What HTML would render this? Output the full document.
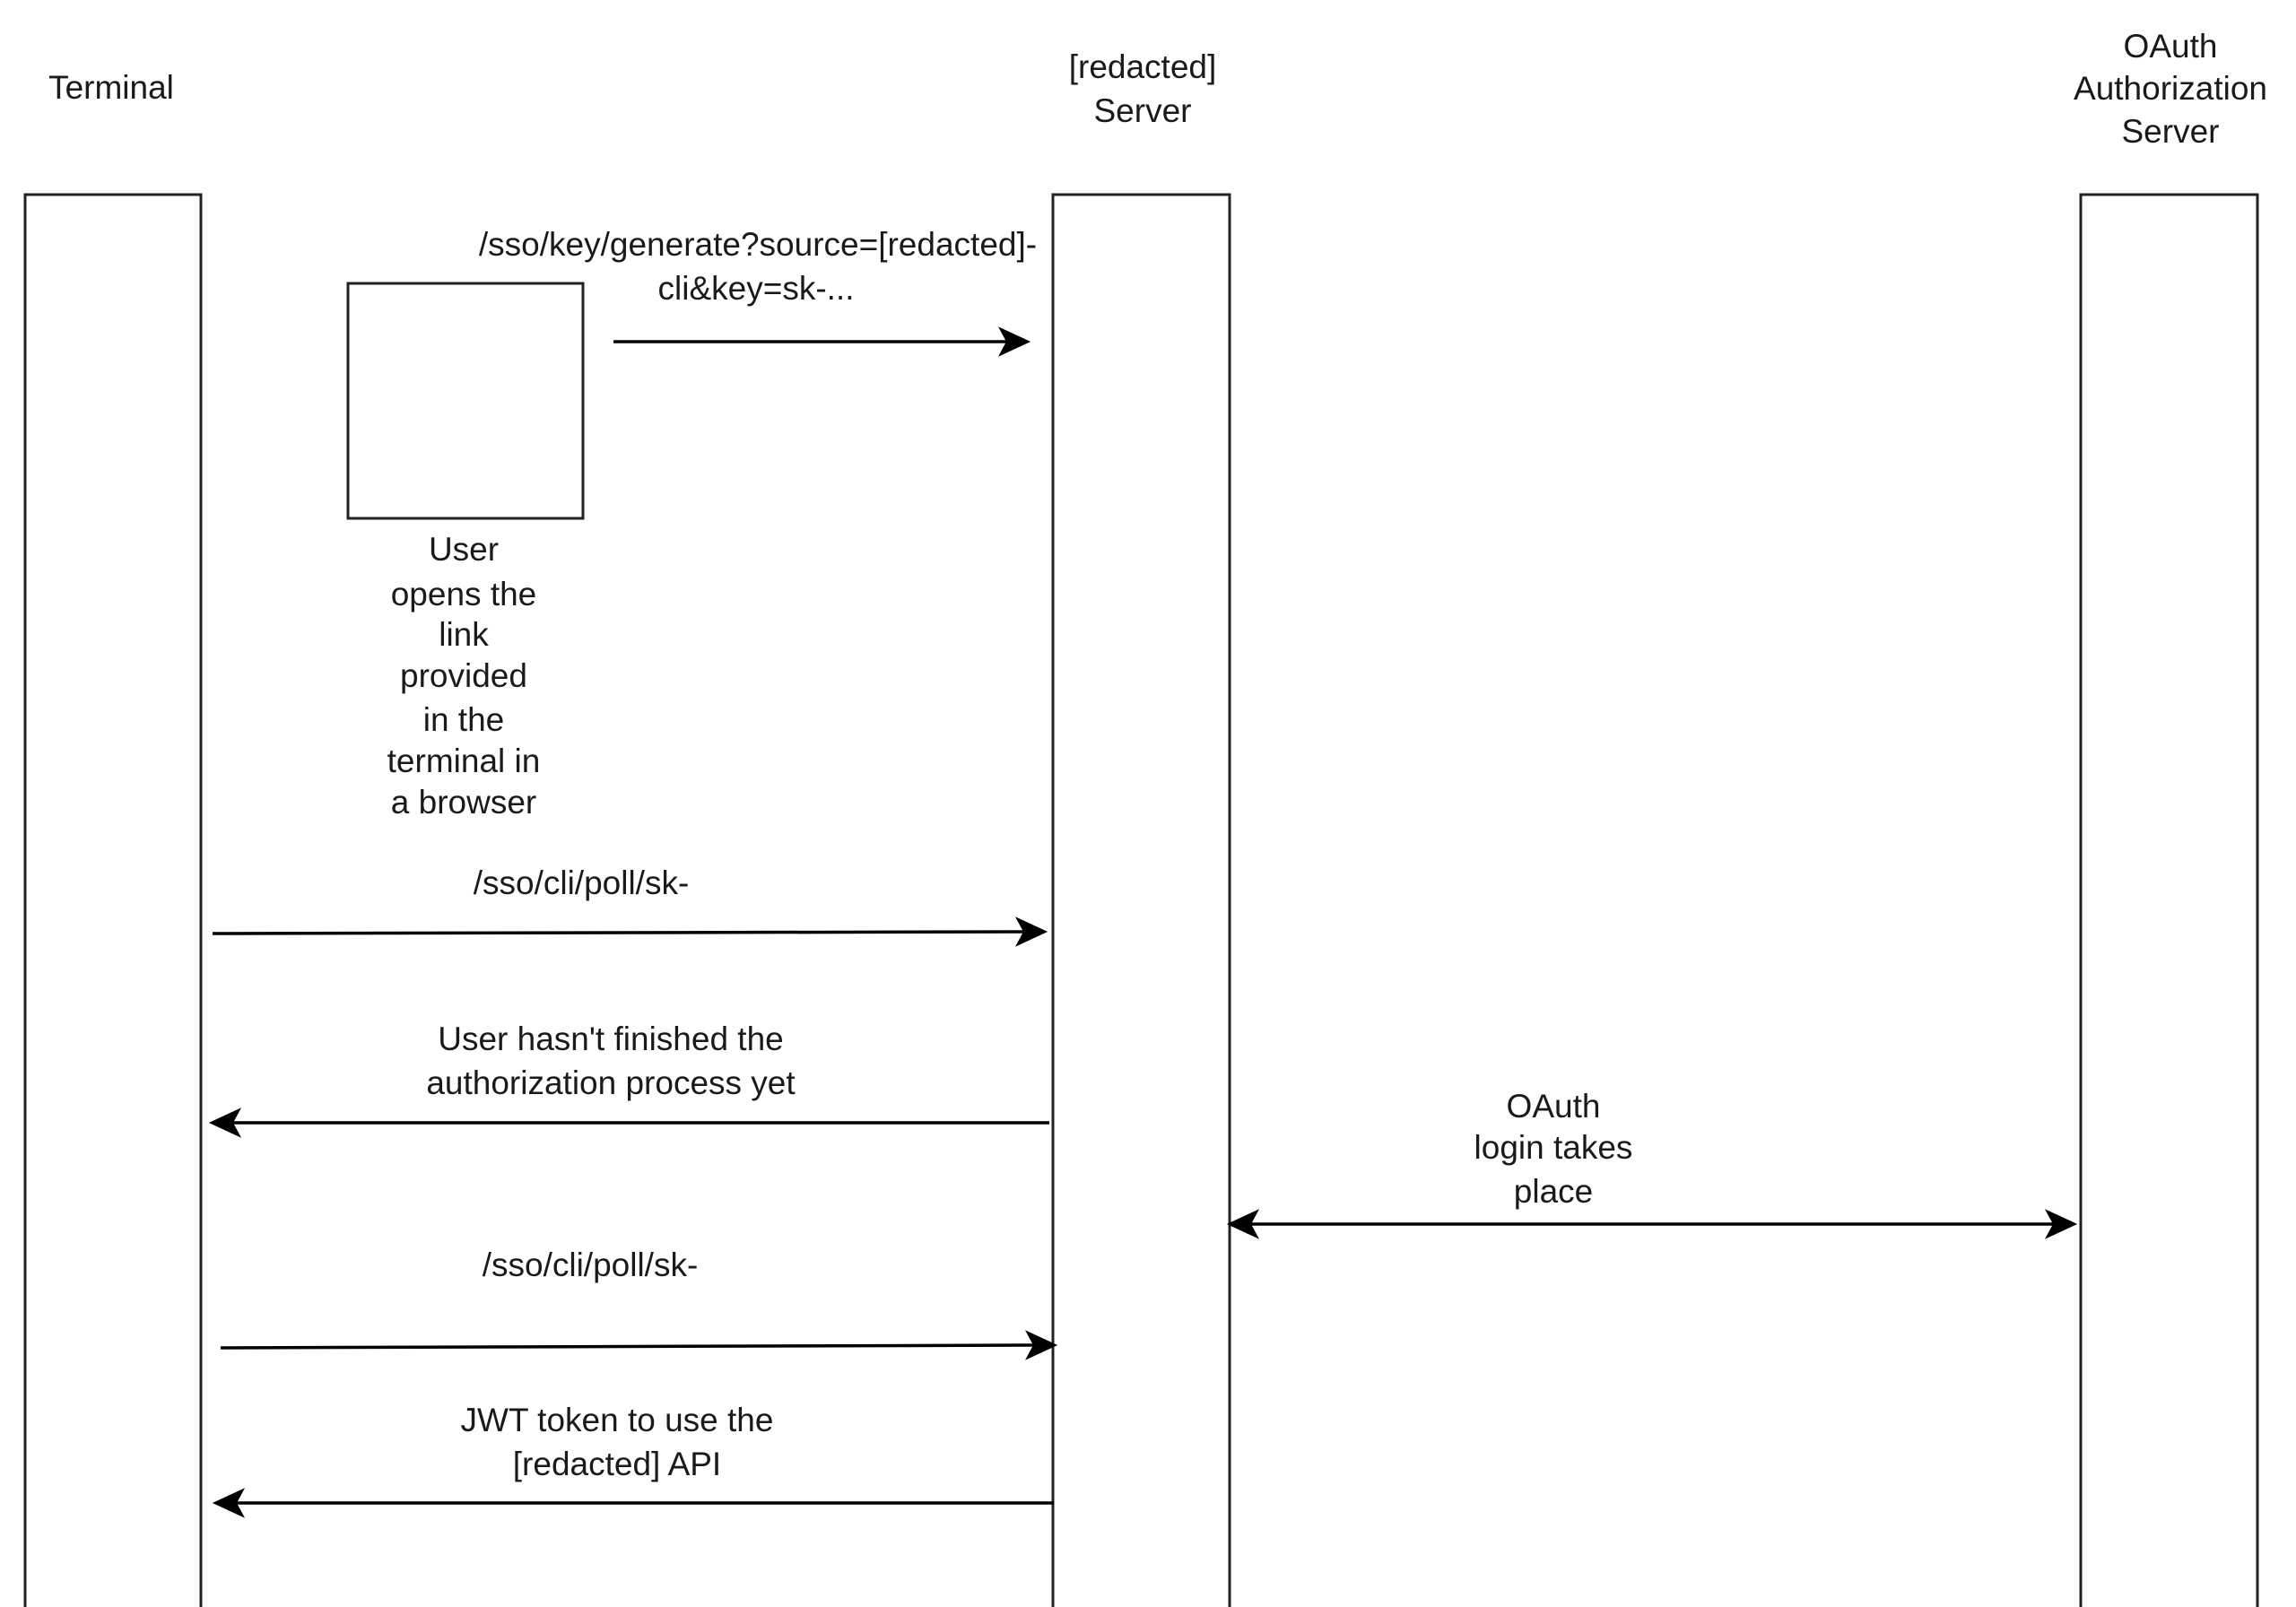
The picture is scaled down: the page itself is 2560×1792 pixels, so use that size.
<!DOCTYPE html>
<html><head><meta charset="utf-8"><style>
html,body{margin:0;padding:0;background:#fff;width:2560px;height:1792px;overflow:hidden}
svg text{font-family:"Liberation Sans",Arial,sans-serif;font-size:37px;fill:#1a1a1a;text-anchor:middle;dominant-baseline:middle}
</style></head><body>
<svg width="2560" height="1792" viewBox="0 0 2560 1792" xmlns="http://www.w3.org/2000/svg">
<defs>
<marker id="a" markerWidth="10" markerHeight="10" refX="9" refY="5" orient="auto" markerUnits="userSpaceOnUse" viewBox="0 0 10 10" style="overflow:visible">
<path d="M0,0 L10,5 L0,10 L2.5,5 Z" fill="#000" transform="scale(2.8) translate(-6.5,-3.2)"/>
</marker>
</defs>
<g fill="none" stroke="#222" stroke-width="3">
<path d="M28,1792 V217 H224 V1792"/>
<path d="M1174,1792 V217 H1371 V1792"/>
<path d="M2320,1792 V217 H2517 V1792"/>
<rect x="388" y="316" width="262" height="262"/>
</g>
<g stroke="#000" stroke-width="3.5" fill="#000">
<line x1="684" y1="381" x2="1125" y2="381"/><path d="M1145,381 L1117,368 L1124,381 L1117,394 Z"/>
<line x1="237" y1="1041" x2="1145" y2="1039"/><path d="M1164,1039 L1136,1026 L1143,1039 L1136,1052 Z"/>
<line x1="1170" y1="1252" x2="256" y2="1252"/><path d="M237,1252 L265,1239 L258,1252 L265,1265 Z"/>
<line x1="1392" y1="1365" x2="2292" y2="1365"/><path d="M1372,1365 L1400,1352 L1393,1365 L1400,1378 Z"/><path d="M2312,1365 L2284,1352 L2291,1365 L2284,1378 Z"/>
<line x1="246" y1="1503" x2="1155" y2="1500"/><path d="M1175,1500 L1147,1487 L1154,1500 L1147,1513 Z"/>
<line x1="1175" y1="1676" x2="260" y2="1676"/><path d="M241,1676 L269,1663 L262,1676 L269,1689 Z"/>
</g>
<text x="124" y="100">Terminal</text>
<text x="1274" y="77">[redacted]</text><text x="1274" y="126">Server</text>
<text x="2420" y="54">OAuth</text><text x="2420" y="101">Authorization</text><text x="2420" y="149">Server</text>
<text x="845" y="275">/sso/key/generate?source=[redacted]-</text>
<text x="843" y="324">cli&amp;key=sk-...</text>
<text x="517" y="615">User</text><text x="517" y="665">opens the</text><text x="517" y="710">link</text><text x="517" y="756">provided</text><text x="517" y="805">in the</text><text x="517" y="851">terminal in</text><text x="517" y="897">a browser</text>
<text x="648" y="987">/sso/cli/poll/sk-</text>
<text x="681" y="1161">User hasn't finished the</text><text x="681" y="1210">authorization process yet</text>
<text x="1732" y="1236">OAuth</text><text x="1732" y="1282">login takes</text><text x="1732" y="1331">place</text>
<text x="658" y="1413">/sso/cli/poll/sk-</text>
<text x="688" y="1586">JWT token to use the</text><text x="688" y="1635">[redacted] API</text>
</svg>
</body></html>
